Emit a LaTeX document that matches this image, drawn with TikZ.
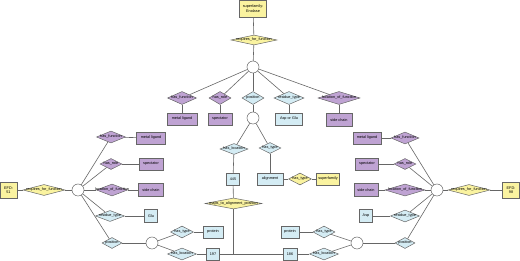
\documentclass[tikz,border=0pt]{standalone}
\usepackage{fontspec}
\setmainfont{Liberation Sans}
\usetikzlibrary{shapes.geometric}
\definecolor{pfill}{HTML}{BFA3D3}
\definecolor{bfill}{HTML}{D4ECF4}
\definecolor{yfill}{HTML}{FAF3A0}
\definecolor{edgec}{HTML}{666666}
\tikzset{
  every node/.style={font=\fontsize{3.8}{4.4}\selectfont},
  sz/.style 2 args={minimum width=#1pt, minimum height=#2pt},
  box/.style={draw=edgec, line width=0.5pt, rectangle, inner sep=0pt, align=center},
  pbox/.style={box, fill=pfill},
  bbox/.style={box, fill=bfill},
  ybox/.style={box, fill=yfill},
  dia/.style={draw=edgec, line width=0.5pt, diamond, inner sep=0pt},
  pdia/.style={dia, fill=pfill},
  bdia/.style={dia, fill=bfill},
  ydia/.style={dia, fill=yfill},
  junc/.style={draw=edgec, line width=0.5pt, circle, fill=white, minimum size=12pt, inner sep=0pt},
  conn/.style={draw=edgec, line width=0.6pt}
}
\begin{document}
\begin{tikzpicture}[x=1pt,y=-1pt]
\useasboundingbox (0,0) rectangle (520,261);
% ---------- top ----------
\node[ybox,sz={27}{17}] (supE) at (253,8.5) {superfamily:\\Enolase};
\node[ydia,sz={46}{10},label=center:{requires\_for\_function}] (rT) at (254,40) {};
\node[junc] (cT) at (253,67) {};
\node[pdia,sz={29}{13},label=center:{has\_function}] (dTf) at (182,98) {};
\node[pdia,sz={22}{13},label=center:{has\_role}] (dTr) at (220,98) {};
\node[bdia,sz={22}{13},label=center:{position}] (dTp) at (253,98) {};
\node[bdia,sz={30}{13},label=center:{residue\_type}] (dTt) at (289,98) {};
\node[pdia,sz={42}{13},label=center:{location\_of\_function}] (dTl) at (339,98) {};
\node[pbox,sz={30}{12}] (bTf) at (182,119) {metal ligand};
\node[pbox,sz={24}{12}] (bTr) at (220,119) {spectator};
\node[bbox,sz={27}{12}] (bTt) at (289,119) {Asp or Glu};
\node[pbox,sz={26}{13}] (bTl) at (339,120) {side chain};
\node[junc] (c2) at (253,118) {};
\node[bdia,sz={28}{11},label=center:{has\_location}] (dHL) at (234,149) {};
\node[bdia,sz={22}{11},label=center:{has\_type}] (dHT) at (270,148) {};
\node[bbox,sz={13}{12}] (b445) at (233,179) {445};
\node[bbox,sz={26}{12}] (bAl) at (270,179) {alignment};
\node[ydia,sz={23}{12},label=center:{has\_type}] (dHTy) at (300,179) {};
\node[ybox,sz={23}{12}] (bSup) at (328,179) {superfamily};
\node[ydia,sz={57}{11},label=center:{maps\_to\_alignment\_position}] (dMap) at (233.5,203.5) {};
\coordinate (j) at (233.5,254);
% ---------- left ----------
\node[ybox,sz={17}{16}] (bE51) at (8.5,190) {EFD:\\51};
\node[ydia,sz={42}{11},label=center:{requires\_for\_function}] (dL) at (44,190) {};
\node[junc] (cL) at (78,190) {};
\node[pdia,sz={29}{12},label=center:{has\_function}] (dLf) at (111,137) {};
\node[pdia,sz={22}{11},label=center:{has\_role}] (dLr) at (111,164) {};
\node[pdia,sz={31}{12},label=center:{location\_of\_function}] (dLl) at (112,190) {};
\node[bdia,sz={29}{11},label=center:{residue\_type}] (dLt) at (110,216) {};
\node[bdia,sz={20}{11},label=center:{position}] (dLp) at (112,243) {};
\node[pbox,sz={29}{12}] (bLf) at (151,138) {metal ligand};
\node[pbox,sz={24}{12}] (bLr) at (151,164) {spectator};
\node[pbox,sz={25}{13}] (bLl) at (151,190) {side chain};
\node[bbox,sz={13}{13}] (bLt) at (151,216) {Glu};
\node[junc] (cL2) at (152,243) {};
\node[bdia,sz={23}{12},label=center:{has\_type}] (dLht) at (182,232) {};
\node[bdia,sz={29}{12},label=center:{has\_location}] (dLhl) at (182,254) {};
\node[bbox,sz={20}{12}] (bLpr) at (213,232) {protein};
\node[bbox,sz={13}{12}] (b197) at (213,254) {197};
% ---------- right ----------
\node[ybox,sz={17}{16}] (bE98) at (511,190) {EFD:\\98};
\node[ydia,sz={42}{11},label=center:{requires\_for\_function}] (dR) at (469,190) {};
\node[junc] (cR) at (437,190) {};
\node[pdia,sz={28}{12},label=center:{has\_function}] (dRf) at (405,138) {};
\node[pdia,sz={22}{11},label=center:{has\_role}] (dRr) at (405,164) {};
\node[pdia,sz={40}{12},label=center:{location\_of\_function}] (dRl) at (405,190) {};
\node[bdia,sz={29}{12},label=center:{residue\_type}] (dRt) at (405,216) {};
\node[bdia,sz={20}{11},label=center:{position}] (dRp) at (405,243) {};
\node[pbox,sz={28}{12}] (bRf) at (367,138) {metal ligand};
\node[pbox,sz={23}{12}] (bRr) at (367,164) {spectator};
\node[pbox,sz={24}{13}] (bRl) at (366,190) {side chain};
\node[bbox,sz={13}{13}] (bRt) at (366,216) {Asp};
\node[junc] (cR2) at (357,243) {};
\node[bdia,sz={22}{12},label=center:{has\_type}] (dRht) at (324,232) {};
\node[bdia,sz={29}{12},label=center:{has\_location}] (dRhl) at (324,254) {};
\node[bbox,sz={18}{12}] (bRpr) at (290,232) {protein};
\node[bbox,sz={14}{12}] (b186) at (290,254) {186};
% ---------- connectors ----------
\draw[conn] (supE) -- (rT);
\draw[conn] (rT) -- (cT);
\foreach \d in {dTf,dTr,dTp,dTt,dTl} \draw[conn] (cT) -- (\d);
\draw[conn] (dTf) -- (bTf);
\draw[conn] (dTr) -- (bTr);
\draw[conn] (dTp) -- (c2);
\draw[conn] (dTt) -- (bTt);
\draw[conn] (dTl) -- (bTl);
\draw[conn] (c2) -- (dHL);
\draw[conn] (c2) -- (dHT);
\draw[conn] (dHL) -- (b445);
\draw[conn] (dHT) -- (bAl);
\draw[conn] (bAl) -- (dHTy);
\draw[conn] (dHTy) -- (bSup);
\draw[conn] (b445) -- (dMap);
\draw[conn] (dMap) -- (j);
\draw[conn] (b197) -- (b186);
% left
\draw[conn] (bE51) -- (dL);
\draw[conn] (dL) -- (cL);
\foreach \d in {dLf,dLr,dLl,dLt,dLp} \draw[conn] (cL) -- (\d);
\draw[conn] (dLf) -- (bLf);
\draw[conn] (dLr) -- (bLr);
\draw[conn] (dLl) -- (bLl);
\draw[conn] (dLt) -- (bLt);
\draw[conn] (dLp) -- (cL2);
\draw[conn] (cL2) -- (dLht);
\draw[conn] (cL2) -- (dLhl);
\draw[conn] (dLht) -- (bLpr);
\draw[conn] (dLhl) -- (b197);
% right
\draw[conn] (bE98) -- (dR);
\draw[conn] (dR) -- (cR);
\foreach \d in {dRf,dRr,dRl,dRt,dRp} \draw[conn] (cR) -- (\d);
\draw[conn] (dRf) -- (bRf);
\draw[conn] (dRr) -- (bRr);
\draw[conn] (dRl) -- (bRl);
\draw[conn] (dRt) -- (bRt);
\draw[conn] (dRp) -- (cR2);
\draw[conn] (cR2) -- (dRht);
\draw[conn] (cR2) -- (dRhl);
\draw[conn] (dRht) -- (bRpr);
\draw[conn] (dRhl) -- (b186);
\end{tikzpicture}
\end{document}
